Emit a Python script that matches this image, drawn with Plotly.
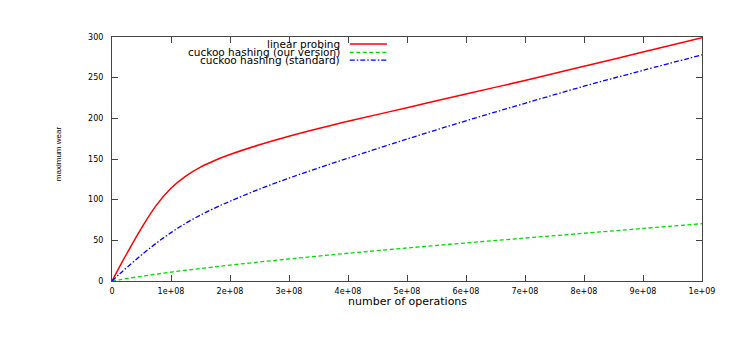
import plotly.graph_objects as go

# x in operations
ops = [0, 0.125e8, 0.25e8, 0.5e8, 0.75e8, 1e8, 1.25e8, 1.5e8, 1.75e8, 2e8, 2.5e8, 3e8,
       3.5e8, 4e8, 5e8, 6e8, 7e8, 8e8, 9e8, 1e9]
linear_probing = [0, 17, 33.5, 65, 93, 114, 129, 140, 148.5, 155.5, 167.5, 178,
                  187.5, 196.5, 213, 230, 246.5, 264, 281.5, 299]
cuckoo_ours = [0, 1.5, 3, 5.8, 8.4, 10.9, 13.2, 15.4, 17.5, 19.5, 23.4, 27.1,
               30.7, 34.1, 40.6, 46.8, 52.8, 58.7, 64.6, 70.5]
cuckoo_standard = [0, 8.5, 16.5, 32, 46.5, 59.5, 71, 81, 90, 98, 113, 126.5,
                   139, 151, 174.5, 197, 218.5, 239.5, 259, 278]

x_ticks = [0, 1e8, 2e8, 3e8, 4e8, 5e8, 6e8, 7e8, 8e8, 9e8, 1e9]
x_tick_labels = ["0", "1e+08", "2e+08", "3e+08", "4e+08", "5e+08", "6e+08",
                 "7e+08", "8e+08", "9e+08", "1e+09"]
y_ticks = [0, 50, 100, 150, 200, 250, 300]

series = [
    ("linear probing", linear_probing, "#ff0000", "solid", 1.5),
    ("cuckoo hashing (our version)", cuckoo_ours, "#00dd00", "4px,2.5px", 1.3),
    ("cuckoo hashing (standard)", cuckoo_standard, "#0000ff", "5px,2px,1.5px,2px", 1.3),
]

FONT = "DejaVu Sans"
fig = go.Figure()
for name, ys, color, dash, w in series:
    fig.add_trace(go.Scatter(x=ops, y=ys, mode="lines", name=name,
                             line=dict(color=color, dash=dash, width=w, shape="spline",
                                       smoothing=1.0),
                             showlegend=False))

# manual gnuplot-style legend (text right, sample on right)
leg_y = [0.971, 0.937, 0.905]
for (name, ys, color, dash, w), py in zip(series, leg_y):
    fig.add_annotation(x=0.390, y=py, xref="paper", yref="paper", text=name,
                       showarrow=False, xanchor="right", yanchor="middle",
                       font=dict(family=FONT, size=10.5, color="black"))
    fig.add_shape(type="line", xref="paper", yref="paper", x0=0.403, x1=0.466,
                  y0=py, y1=py, line=dict(color=color, dash=dash, width=w))

# axis titles
fig.add_annotation(x=0.5, y=-0.082, xref="paper", yref="paper", text="number of operations",
                   showarrow=False, xanchor="center", yanchor="middle",
                   font=dict(family=FONT, size=11, color="black"))
fig.add_annotation(x=-0.0915, y=0.52, xref="paper", yref="paper", text="maximum wear",
                   showarrow=False, xanchor="center", yanchor="middle", textangle=-90,
                   font=dict(family="Liberation Sans Narrow, Liberation Sans", size=8, color="black"))

axis_common = dict(showline=True, linecolor="#444444", linewidth=1, mirror="ticks",
                   ticks="inside", ticklen=6, tickcolor="#444444", showgrid=False,
                   zeroline=False, tickfont=dict(family=FONT, size=8, color="black"))
fig.update_xaxes(range=[0, 1e9], tickvals=x_ticks, ticktext=x_tick_labels,
                 ticklabelstandoff=2, **axis_common)
fig.update_yaxes(range=[0, 300], tickvals=y_ticks, ticklabelstandoff=6, **axis_common)
fig.update_layout(width=739, height=331, margin=dict(l=104, r=45, t=29, b=58),
                  paper_bgcolor="white", plot_bgcolor="white")
fig.write_html("out.html")
